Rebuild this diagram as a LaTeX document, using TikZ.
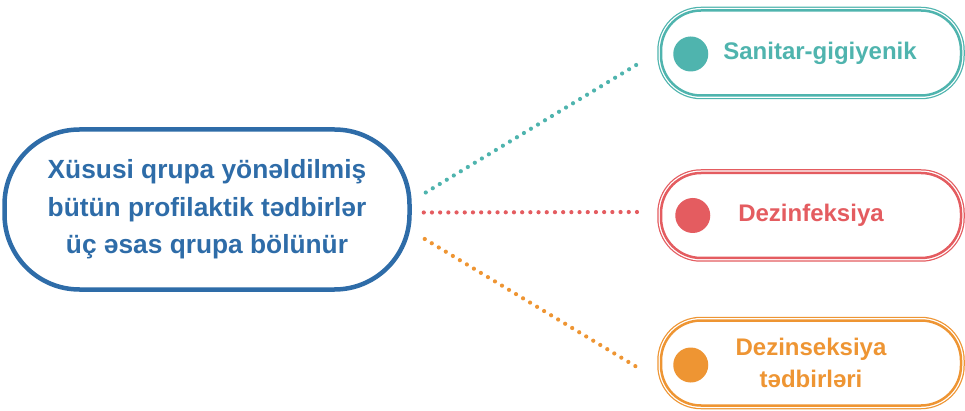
\documentclass[tikz,border=0pt]{standalone}
\usepackage{fontspec}
\setmainfont{Liberation Sans}
\usepackage{tikz}
\usetikzlibrary{
  positioning,
  calc
}
\definecolor{pfMain}{HTML}{2E6CA8}
\definecolor{pfSan}{HTML}{4FB4AE}
\definecolor{pfDez}{HTML}{E45C60}
\definecolor{pfIns}{HTML}{EE9533}
\tikzset{
  pfnode/.style={
    align=center, inner sep=0pt, font=\bfseries
  },
  mainbox/.style={
    pfnode, draw=pfMain, line width=4.5pt, fill=white, text=pfMain,
    rounded corners=75pt, minimum width=405pt, minimum height=160pt,
    font=\bfseries\fontsize{26.3}{37.5}\selectfont
  },
  groupbox/.style={
    pfnode, draw=#1, line width=2.5pt, fill=white, text=#1,
    rounded corners=40pt, minimum width=300pt, minimum height=85pt,
    font=\bfseries\fontsize{24}{32}\selectfont,
    preaction={draw=#1, line width=7.5pt},
    preaction={draw=white, line width=5pt}
  },
  dotmark/.style={circle, fill=#1, inner sep=0pt, minimum size=35pt},
  dotline/.style={draw=#1, line width=4.2pt, line cap=round,
    dash pattern=on 0pt off 8.2pt}
}
\begin{document}
\begin{tikzpicture}[x=1pt, y=-1pt]
  \useasboundingbox (0,0) rectangle (965,411);
  % main group
  \node[mainbox] (main) at (207,209.5)
    {Xüsusi qrupa yönəldilmiş\\bütün profilaktik tədbirlər\\üç əsas qrupa bölünür};
  % three groups
  \node[groupbox=pfSan] (san) at (811,53) {\hspace*{18pt}Sanitar-gigiyenik};
  \node[groupbox=pfDez] (dez) at (811,215.5) {Dezinfeksiya};
  \node[groupbox=pfIns] (ins) at (811,363) {Dezinseksiya\\tədbirləri};
  \node[dotmark=pfSan] (sandot) at ($(san.west)+(31,1)$) {};
  \node[dotmark=pfDez] (dezdot) at ($(dez.west)+(33,0)$) {};
  \node[dotmark=pfIns] (insdot) at ($(ins.west)+(31,2)$) {};
  % dotted connectors
  \draw[dotline=pfSan] ($(main.east)+(14,-17)$) -- ($(san.west)+(-17,8)$);
  \draw[dotline=pfDez] ($(main.east)+(12,3)$) -- ($(dez.west)+(-21,-3.5)$);
  \draw[dotline=pfIns] ($(main.east)+(13,29.5)$) -- ($(ins.west)+(-18,7)$);
\end{tikzpicture}
\end{document}
